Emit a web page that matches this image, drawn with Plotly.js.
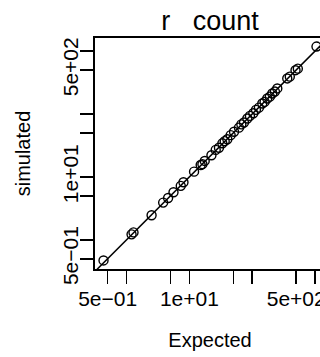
<!DOCTYPE html>
<html>
<head>
<meta charset="utf-8">
<script src="https://cdn.plot.ly/plotly-3.0.1.min.js"></script>
<style>
html, body { margin: 0; padding: 0; overflow: hidden; background: #fff; }
#chart { width: 330px; height: 357px; }
</style>
</head>
<body>
<div id="chart"></div>
<script>
// Data
const expected = [0.43, 1.20, 1.29, 2.50, 3.82, 4.58, 5.58, 7.28, 8.04, 11.85, 15.1, 16.1, 17.5, 22.4, 26.2, 29.5, 33.4, 36.4, 40.1, 45.3, 51.2, 61.4, 67.0, 73.8, 83.4, 91.8, 103.8, 114.3, 127.4, 144.2, 157, 173, 190.5, 208, 229, 250, 360, 395, 487, 530, 1050];
const simulated = [0.47, 1.22, 1.31, 2.46, 3.90, 4.62, 5.70, 7.20, 8.20, 12.1, 15.4, 15.9, 17.9, 22.0, 26.8, 29.0, 34.1, 36.9, 39.6, 46.0, 52.0, 60.5, 68.1, 72.9, 84.6, 93.0, 102.5, 116.0, 125.8, 146.5, 155.2, 175.8, 188.0, 211.0, 226.5, 254.0, 366, 391, 495, 524, 1175];
const tickValues = [0.5, 1, 5, 10, 50, 100, 500, 1000];
const tickLabels = ['5e\u221201', '', '', '1e+01', '', '', '5e+02', ''];
const titleText = 'r   count';
const xTitle = 'Expected';
const yTitle = 'simulated';

function logRange(v) {
  const lo = Math.log10(Math.min(...v)), hi = Math.log10(Math.max(...v));
  const e = (hi - lo) * 0.04;
  return [lo - e, hi + e];
}
const allMin = Math.min(...expected, ...simulated) / 10;
const allMax = Math.max(...expected, ...simulated) * 10;

const font = 'Liberation Sans, Arial, Helvetica, sans-serif';
const axisCommon = {
  type: 'log',
  tickvals: tickValues,
  ticktext: tickLabels,
  ticks: 'outside',
  ticklen: 13,
  tickwidth: 1.6,
  tickcolor: '#000',
  showline: true,
  linecolor: '#000',
  linewidth: 1.6,
  mirror: true,
  showgrid: false,
  zeroline: false,
  tickfont: {family: font, size: 21, color: '#000'}
};

const traces = [
  {
    x: [allMin, allMax], y: [allMin, allMax],
    mode: 'lines', line: {color: '#000', width: 1.5},
    hoverinfo: 'skip', showlegend: false
  },
  {
    x: expected, y: simulated,
    mode: 'markers',
    marker: {symbol: 'circle-open', size: 9, color: '#000', line: {width: 1.4, color: '#000'}},
    showlegend: false
  }
];

const layout = {
  width: 330, height: 357,
  margin: {l: 95, r: 5, t: 38, b: 88},
  paper_bgcolor: '#fff', plot_bgcolor: '#fff',
  font: {family: font, color: '#000'},
  title: {text: titleText, font: {family: font, size: 27, color: '#000'}, x: 0.5, xref: 'paper', xanchor: 'center', y: 1, yref: 'paper', yanchor: 'bottom', pad: {b: 8}},
  xaxis: Object.assign({}, axisCommon, {
    range: logRange(expected),
    ticklabelstandoff: -3,
    title: {text: xTitle, font: {family: font, size: 20, color: '#000'}, standoff: 24}
  }),
  yaxis: Object.assign({}, axisCommon, {
    range: logRange(simulated),
    tickangle: -90,
    ticklabelstandoff: -6,
    title: {text: yTitle, font: {family: font, size: 20, color: '#000'}, standoff: 23}
  })
};

Plotly.newPlot('chart', traces, layout, {staticPlot: true, displayModeBar: false});
</script>
</body>
</html>
